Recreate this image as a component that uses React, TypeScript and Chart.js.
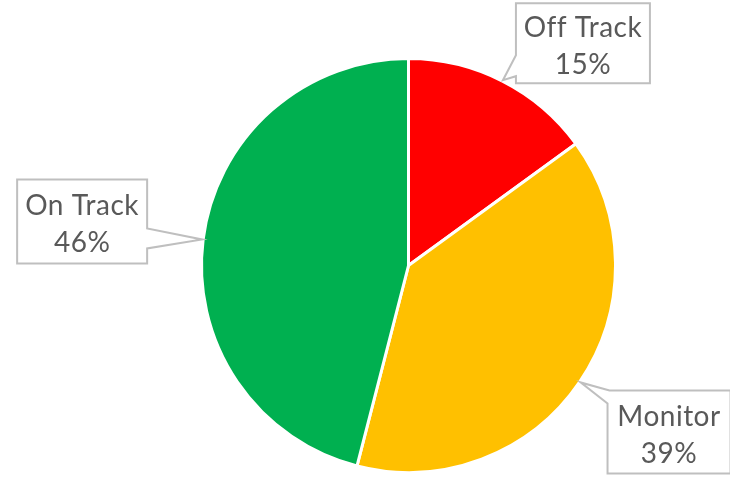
import React, { useEffect, useRef } from "react";
import { Chart, registerables } from "chart.js";

Chart.register(...registerables);

const categories = ["Off Track", "Monitor", "On Track"];
const values = [15, 39, 46];
const percentLabels = ["15%", "39%", "46%"];
const colors = ["#FF0000", "#FFC000", "#00B050"];

// callout box layout relative to the pointer tip: [dx, dy, w, h]
const calloutBoxes: Record<string, number[]> = {
  "Off Track": [13, -77, 134, 80],
  "Monitor": [27, 8, 123, 83],
  "On Track": [-185, -60, 130, 84],
};

const calloutPlugin = {
  id: "callouts",
  afterDatasetsDraw(chart: any) {
    const ctx = chart.ctx;
    const meta = chart.getDatasetMeta(0);
    meta.data.forEach((arc: any, i: number) => {
      const name = categories[i];
      const mid = (arc.startAngle + arc.endAngle) / 2;
      const r = arc.outerRadius + 1;
      const tx = arc.x + Math.cos(mid) * r;
      const ty = arc.y + Math.sin(mid) * r;
      const [dx, dy, w, h] = calloutBoxes[name];
      const bx = tx + dx;
      const by = ty + dy;
      ctx.save();
      ctx.beginPath();
      if (name === "Off Track") {
        ctx.moveTo(bx, by);
        ctx.lineTo(bx + w, by);
        ctx.lineTo(bx + w, by + h);
        ctx.lineTo(bx, by + h);
        ctx.lineTo(bx, by + 73);
        ctx.lineTo(tx, ty);
        ctx.lineTo(bx, by + 52);
        ctx.closePath();
      } else if (name === "On Track") {
        ctx.moveTo(bx, by);
        ctx.lineTo(bx + w, by);
        ctx.lineTo(bx + w, by + 49);
        ctx.lineTo(tx, ty);
        ctx.lineTo(bx + w, by + 69);
        ctx.lineTo(bx + w, by + h);
        ctx.lineTo(bx, by + h);
        ctx.closePath();
      } else {
        ctx.moveTo(bx + 2, by);
        ctx.lineTo(bx + w, by);
        ctx.lineTo(bx + w, by + h);
        ctx.lineTo(bx, by + h);
        ctx.lineTo(bx, by + 13);
        ctx.lineTo(tx, ty);
        ctx.closePath();
      }
      ctx.fillStyle = "#FFFFFF";
      ctx.fill();
      ctx.lineWidth = 2;
      ctx.strokeStyle = "#BFBFBF";
      ctx.lineJoin = "miter";
      ctx.stroke();

      const cx = bx + w / 2;
      const cy = by + h / 2;
      ctx.fillStyle = "#595959";
      ctx.font = "28px Lato, 'Liberation Sans', sans-serif";
      ctx.textAlign = "center";
      ctx.textBaseline = "alphabetic";
      try { (ctx as any).letterSpacing = "0.5px"; } catch (e) {}
      ctx.fillText(name, cx, cy - 6);
      ctx.fillText(percentLabels[i], cx, cy + 31);
      ctx.restore();
    });
  },
};

export default function App() {
  const ref = useRef<HTMLCanvasElement | null>(null);
  useEffect(() => {
    if (!ref.current) return;
    const chart = new Chart(ref.current, {
      type: "pie",
      data: {
        labels: categories,
        datasets: [
          {
            data: values,
            backgroundColor: colors,
            borderColor: "#FFFFFF",
            borderWidth: 3,
          },
        ],
      },
      options: {
        animation: false,
        responsive: true,
        maintainAspectRatio: false,
        layout: { padding: { left: 200, top: 57, right: 113, bottom: 8 } },
        plugins: {
          legend: { display: false },
          tooltip: { enabled: false },
        },
        events: [],
      },
      plugins: [calloutPlugin],
    });
    return () => chart.destroy();
  }, []);
  return (
    <div style={{ position: "absolute", left: 0, top: 0, width: 730, height: 482, background: "#fff" }}>
      <canvas ref={ref} />
    </div>
  );
}
